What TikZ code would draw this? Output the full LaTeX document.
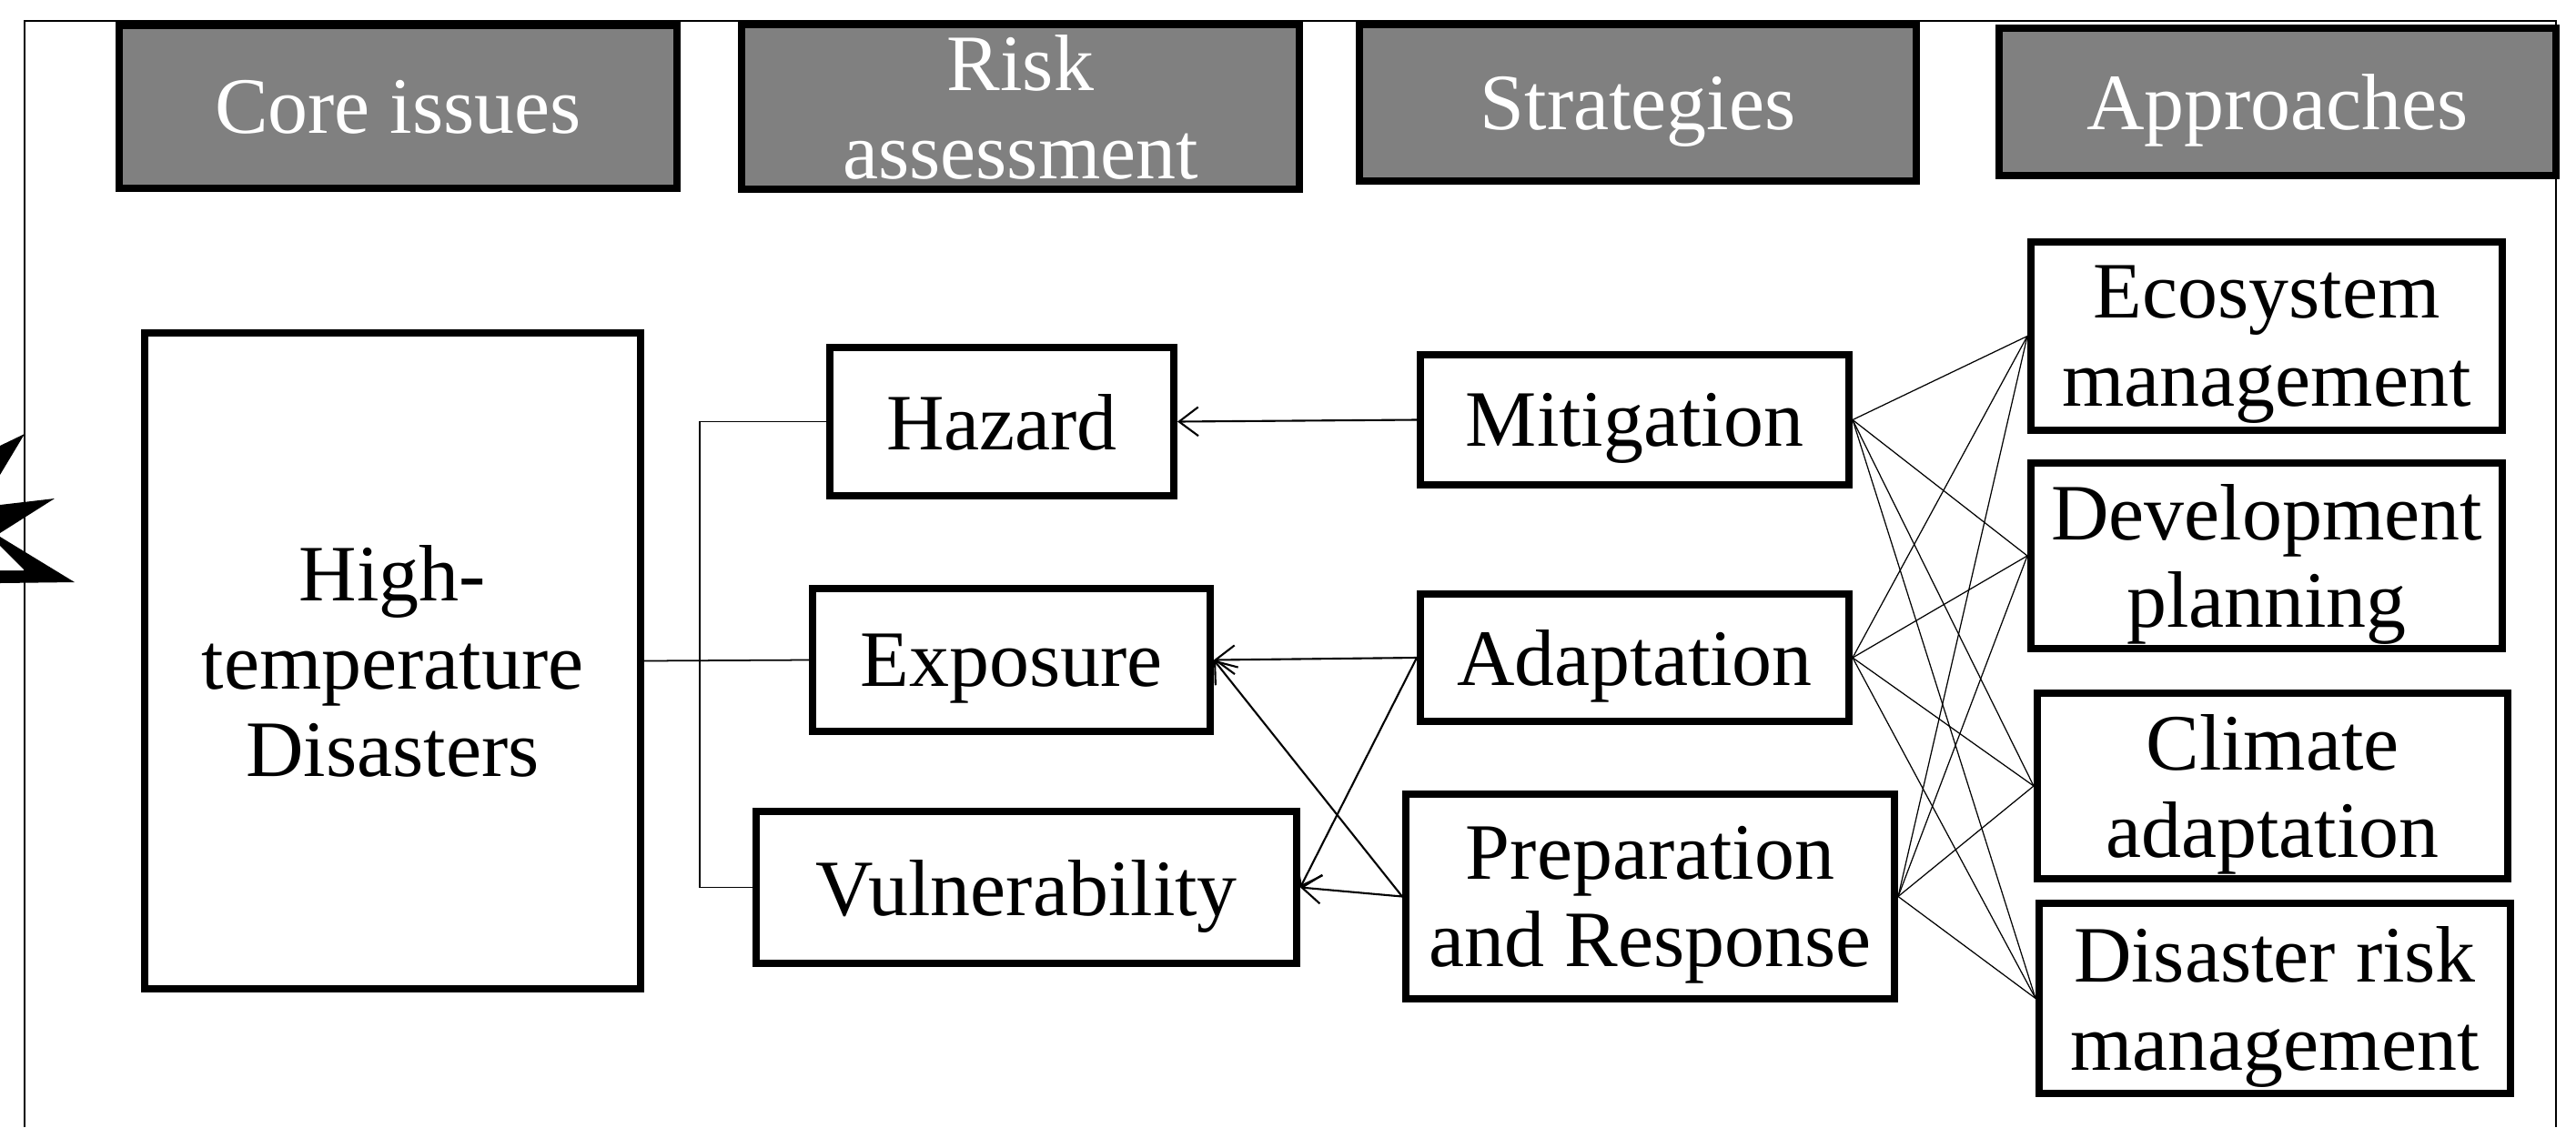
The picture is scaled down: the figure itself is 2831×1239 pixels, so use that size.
\documentclass[tikz,border=0pt]{standalone}
\usepackage{fontspec}
\setmainfont{Liberation Serif}
\usetikzlibrary{arrows.meta}
\definecolor{hdrgray}{RGB}{128,128,128}
\begin{document}
\begin{tikzpicture}[x=0.01cm,y=-0.01cm,
  box/.style={draw, line width=2.2pt, inner sep=0pt, align=center, text depth=0pt,
    font=\fontsize{25}{27.5}\selectfont},
  hdr/.style={box, fill=hdrgray, text=white},
  link/.style={line width=0.5pt},
  arr/.style={line width=0.6pt, -{Straight Barb[length=6pt,width=9pt]}},
  fan/.style={line width=0.35pt}]
\useasboundingbox (0,0) rectangle (2831,1239);

% partial star at left edge
\fill (0,490) -- (27,477) -- (0,522) -- cycle;
\fill (0,555) -- (60,548) -- (0,586) -- cycle;
\fill (0,590) -- (82,640) -- (0,641) -- cycle;
\fill[white] (0,600) -- (27,627) -- (0,627) -- cycle;

% frame
\draw[line width=0.7pt] (27,1239) -- (27,23) -- (2809,23) -- (2809,1239);

% headers
\node[hdr, minimum width=6.13cm, minimum height=1.79cm] (core)  at (437.5,117.5) {Core issues};
\node[hdr, minimum width=6.13cm, minimum height=1.81cm] (risk)  at (1121.5,117.5) {Risk\\assessment};
\node[hdr, minimum width=6.12cm, minimum height=1.72cm] (strat) at (1800,113) {Strategies};
\node[hdr, minimum width=6.12cm, minimum height=1.62cm] (appr)  at (2503,112) {Approaches};

% core issue
\node[box, minimum width=5.45cm, minimum height=7.21cm] (high) at (431.5,726.5) {High-\\temperature\\Disasters};

% risk assessment
\node[box, minimum width=3.78cm, minimum height=1.63cm] (hazard) at (1101,463.5) {Hazard};
\node[box, minimum width=4.37cm, minimum height=1.57cm] (expo)   at (1111.5,725.5) {Exposure};
\node[box, minimum width=5.94cm, minimum height=1.67cm] (vuln)   at (1128,975.5) {Vulnerability};

% strategies
\node[box, minimum width=4.71cm, minimum height=1.43cm] (mitig) at (1796.5,461.5) {Mitigation};
\node[box, minimum width=4.71cm, minimum height=1.40cm] (adapt) at (1796.5,723) {Adaptation};
\node[box, minimum width=5.37cm, minimum height=2.25cm] (prep)  at (1813.5,985.5) {Preparation\\and Response};

% approaches
\node[box, minimum width=5.18cm, minimum height=2.07cm] (eco)  at (2491,369.5) {Ecosystem\\management};
\node[box, minimum width=5.18cm, minimum height=2.04cm] (dev)  at (2491,611) {Development\\planning};
\node[box, minimum width=5.17cm, minimum height=2.04cm] (clim) at (2497.5,864) {Climate\\adaptation};
\node[box, minimum width=5.18cm, minimum height=2.09cm] (dis)  at (2500,1097.5) {Disaster risk\\management};

% core -> risk components
\coordinate (spine) at (769,726);
\draw[link] (high.east) -- (expo.west);
\draw[link] (hazard.west) -| (spine) |- (vuln.west);

% strategies -> risk components
\draw[arr] (mitig.west) -- (hazard.east);
\draw[arr] (adapt.west) -- (expo.east);
\draw[arr] (adapt.west) -- (vuln.east);
\draw[arr] (prep.west) -- (vuln.east);
\draw[arr] (prep.west) -- (expo.east);

% strategies -- approaches
\foreach \s in {mitig,adapt,prep}
  \foreach \a in {eco,dev,clim,dis}
    \draw[fan] (\s.east) -- (\a.west);
\end{tikzpicture}
\end{document}
